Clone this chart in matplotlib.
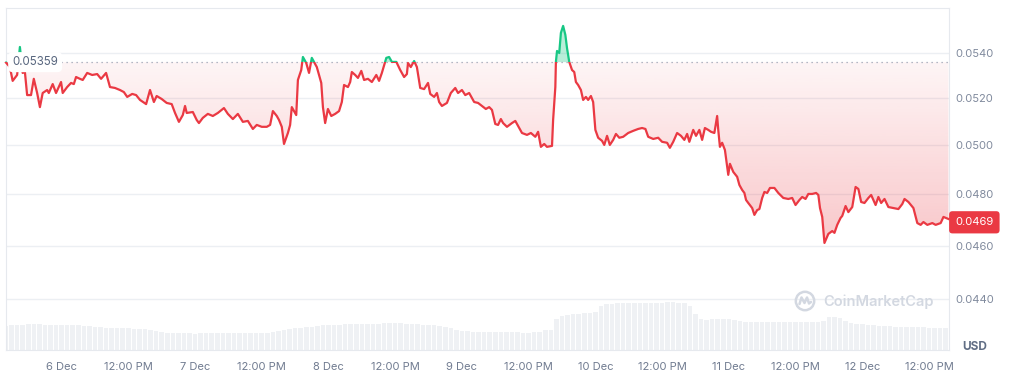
import matplotlib
matplotlib.use("Agg")
import matplotlib.pyplot as plt
import matplotlib.transforms as mtransforms
import numpy as np
from matplotlib.colors import to_rgb
from matplotlib.patches import Circle, Rectangle
from matplotlib.path import Path
from matplotlib.ticker import FixedLocator, NullFormatter, NullLocator

plt.rcParams["font.family"] = ["Inter", "DejaVu Sans"]

# Price, hours counted from 6 Dec 00:00
hours = [
    -10.0, -9.3, -8.8, -8.0, -7.5, -7.0, -6.6, -6.2, -5.5, -5.0, -4.4, -3.9, -3.4, -2.6, -2.3, -1.6, -1.0, -0.1,
    0.2, 1.0, 1.7, 2.2, 2.6, 3.3, 3.8, 4.6, 5.5, 6.4, 7.1, 8.0, 8.7, 9.6, 10.5, 11.2, 11.8, 12.7, 13.4, 14.1,
    15.2, 15.9, 16.6, 17.1, 18.0, 18.9, 19.8, 20.4, 21.1, 21.8, 22.2, 22.5, 23.6, 24.3, 24.7, 25.4, 26.3, 27.2,
    28.1, 29.2, 29.9, 30.8, 31.7, 32.6, 33.5, 34.4, 35.1, 36.0, 36.9, 37.5, 38.0, 38.7, 39.1, 39.6, 40.0, 40.7,
    41.1, 41.4, 42.2, 42.5, 43.1, 43.4, 44.0, 44.5, 45.0, 45.9, 46.7, 47.0, 47.4, 47.9, 48.5, 49.2, 49.9, 50.4,
    50.8, 51.5, 51.9, 52.2, 52.8, 53.3, 53.9, 54.4, 55.1, 55.8, 56.6, 57.1, 57.6, 58.4, 58.9, 59.4, 60.2, 60.9,
    61.6, 62.1, 62.3, 62.8, 63.4, 63.9, 64.5, 65.2, 65.9, 66.3, 67.0, 67.5, 67.9, 68.4, 69.3, 70.0, 70.8, 71.3,
    72.0, 72.6, 73.3, 74.2, 74.9, 75.6, 76.3, 76.9, 77.4, 78.0, 78.5, 79.0, 79.4, 80.1, 81.0, 81.6, 82.1, 82.8,
    83.7, 84.4, 85.2, 85.7, 86.2, 86.8, 87.3, 88.2, 88.4, 88.8, 88.9, 89.1, 89.5, 89.8, 90.2, 90.6, 90.9, 91.3,
    91.8, 92.2, 92.5, 92.9, 93.4, 93.8, 94.3, 94.7, 95.2, 95.6, 96.0, 96.5, 97.2, 97.6, 98.1, 98.6, 99.2, 99.7,
    100.3, 101.0, 101.9, 102.8, 103.7, 104.4, 105.0, 105.5, 106.4, 107.3, 108.0, 108.9, 109.4, 110.0, 110.7,
    111.4, 112.0, 112.5, 112.9, 113.6, 114.1, 114.7, 115.2, 115.7, 116.3, 116.8, 117.4, 117.9, 118.1, 118.4,
    118.8, 119.3, 119.9, 120.2, 120.8, 121.5, 121.9, 122.4, 122.8, 123.1, 123.5, 124.2, 124.6, 125.1, 125.5,
    126.0, 126.4, 126.9, 127.4, 128.2, 128.9, 129.8, 130.7, 131.4, 132.0, 132.7, 133.2, 133.8, 134.3, 135.0,
    135.7, 136.1, 136.4, 136.8, 137.2, 137.9, 138.6, 139.0, 139.5, 140.1, 140.4, 141.0, 141.5, 142.2, 142.8,
    143.3, 143.8, 144.4, 145.1, 145.6, 146.4, 146.9, 147.4, 148.0, 148.7, 149.6, 150.5, 151.2, 151.6, 152.3,
    153.2, 153.9, 154.5, 155.0, 155.7, 156.6, 157.2, 158.1, 158.6, 159.5,
]
price = [
    0.05357, 0.05337, 0.05276, 0.05302, 0.05427, 0.05311, 0.05315, 0.05214, 0.05214, 0.05285, 0.05223, 0.05162,
    0.05223, 0.05236, 0.05223, 0.05262, 0.05223, 0.05271, 0.05223, 0.05249, 0.05267, 0.05262, 0.05293, 0.05285,
    0.05280, 0.05311, 0.05302, 0.05306, 0.05285, 0.05311, 0.05249, 0.05245, 0.05236, 0.05227, 0.05206, 0.05219,
    0.05214, 0.05193, 0.05175, 0.05236, 0.05184, 0.05210, 0.05197, 0.05180, 0.05175, 0.05137, 0.05099, 0.05128,
    0.05167, 0.05137, 0.05141, 0.05107, 0.05094, 0.05116, 0.05133, 0.05124, 0.05137, 0.05158, 0.05133, 0.05111,
    0.05133, 0.05099, 0.05103, 0.05069, 0.05086, 0.05078, 0.05078, 0.05086, 0.05145, 0.05124, 0.05107, 0.05078,
    0.05006, 0.05052, 0.05086, 0.05162, 0.05128, 0.05280, 0.05324, 0.05382, 0.05355, 0.05311, 0.05378, 0.05337,
    0.05267, 0.05162, 0.05094, 0.05154, 0.05124, 0.05133, 0.05145, 0.05184, 0.05258, 0.05249, 0.05271, 0.05315,
    0.05302, 0.05289, 0.05320, 0.05280, 0.05285, 0.05271, 0.05302, 0.05276, 0.05311, 0.05378, 0.05382, 0.05360,
    0.05360, 0.05324, 0.05293, 0.05306, 0.05355, 0.05337, 0.05364, 0.05337, 0.05245, 0.05240, 0.05267, 0.05219,
    0.05206, 0.05223, 0.05184, 0.05167, 0.05180, 0.05223, 0.05245, 0.05223, 0.05236, 0.05214, 0.05223, 0.05184,
    0.05180, 0.05167, 0.05154, 0.05162, 0.05150, 0.05090, 0.05086, 0.05111, 0.05094, 0.05078, 0.05094, 0.05103,
    0.05082, 0.05052, 0.05044, 0.05052, 0.05036, 0.05057, 0.04994, 0.05006, 0.04994, 0.04998, 0.05107, 0.05249,
    0.05360, 0.05409, 0.05400, 0.05491, 0.05523, 0.05482, 0.05422, 0.05360, 0.05324, 0.05315, 0.05271, 0.05258,
    0.05236, 0.05193, 0.05206, 0.05193, 0.05210, 0.05184, 0.05065, 0.05032, 0.05019, 0.05002, 0.05040, 0.05002,
    0.05023, 0.05048, 0.05032, 0.05036, 0.05052, 0.05061, 0.05069, 0.05073, 0.05069, 0.05036, 0.05027, 0.05032,
    0.05015, 0.05011, 0.04990, 0.05015, 0.05052, 0.05040, 0.05023, 0.05048, 0.05015, 0.05065, 0.05040, 0.05065,
    0.05023, 0.05073, 0.05065, 0.05057, 0.05052, 0.05124, 0.05065, 0.04994, 0.05011, 0.04981, 0.04879, 0.04924,
    0.04891, 0.04871, 0.04838, 0.04818, 0.04806, 0.04778, 0.04766, 0.04746, 0.04719, 0.04738, 0.04742, 0.04786,
    0.04810, 0.04806, 0.04826, 0.04826, 0.04806, 0.04786, 0.04782, 0.04786, 0.04758, 0.04778, 0.04790, 0.04782,
    0.04802, 0.04802, 0.04806, 0.04798, 0.04746, 0.04711, 0.04610, 0.04645, 0.04656, 0.04649, 0.04680, 0.04707,
    0.04715, 0.04754, 0.04730, 0.04750, 0.04830, 0.04822, 0.04770, 0.04766, 0.04786, 0.04798, 0.04758, 0.04790,
    0.04766, 0.04782, 0.04750, 0.04746, 0.04742, 0.04762, 0.04782, 0.04770, 0.04746, 0.04687, 0.04680, 0.04691,
    0.04680, 0.04687, 0.04680, 0.04687, 0.04711, 0.04703,
]

# Hourly volume (relative)
vol_hours = list(range(-10, 160))
volume = [
    24, 25, 25, 25, 26, 26, 26, 25, 25, 25, 25, 25, 25, 25, 24, 24,
    23, 23, 22, 22, 22, 22, 22, 21, 21, 21, 20, 19, 18,
    17, 17, 17, 17, 17, 16, 17, 17, 17, 17, 17, 17, 17, 17, 17, 17, 17, 17, 17, 18,
    19, 20, 21, 22, 22, 23, 23, 24, 25,
    25, 25, 25, 26, 26, 26, 26, 26, 26, 26, 27, 27, 27, 27, 26, 26, 26, 25, 25, 25, 24, 23, 22,
    20, 19, 19, 18, 18, 18, 18, 18, 18, 18, 18, 18, 17, 17, 18, 18,
    20, 20,
    31, 34, 35, 36, 36, 37, 37, 38,
    44, 46, 46, 47, 47, 47, 47, 47, 47, 47, 47, 47, 48, 48, 47, 47,
    44, 36, 31, 30,
    31, 31, 31, 31, 30, 29,
    28, 28, 28, 28, 28, 28, 28, 28, 28, 28, 28, 28, 28, 28, 29,
    33, 33, 32,
    29, 27, 26, 26, 25, 25, 24, 24, 24,
    23, 23, 23, 23, 23, 23, 22, 22, 22, 22,
]

open_price = 0.05359
last_price = 0.0469
y_ticks = [0.0440, 0.0460, 0.0480, 0.0500, 0.0520, 0.0540]
x_ticks = [0, 12, 24, 36, 48, 60, 72, 84, 96, 108, 120, 132, 144, 156]
x_labels = ["6 Dec", "12:00 PM", "7 Dec", "12:00 PM", "8 Dec", "12:00 PM", "9 Dec",
            "12:00 PM", "10 Dec", "12:00 PM", "11 Dec", "12:00 PM", "12 Dec", "12:00 PM"]

red = "#ea3943"
green = "#16c784"
xlim = (-10.0, 159.6)
ylim = (0.04217, 0.05606)

fig = plt.figure(figsize=(10.11, 3.74), dpi=100)
rect = [6 / 1011, 24 / 374, 943 / 1011, 342 / 374]

# volume bars behind everything
axv = fig.add_axes(rect)
axv.bar(vol_hours, volume, width=0.82, color="#eff1f4", linewidth=0)
axv.set_xlim(*xlim)
axv.set_ylim(0, 342)
axv.axis("off")

ax = fig.add_axes(rect)
ax.patch.set_alpha(0)
ax.set_yscale("log")
ax.set_xlim(*xlim)
ax.set_ylim(*ylim)
ax.set_autoscale_on(False)

h = np.array(hours)
p = np.array(price)

# green area above the open price
ax.fill_between(h, p, open_price, where=p >= open_price, interpolate=True,
                color=green, alpha=0.3, linewidth=0, zorder=1)

# red gradient area below the open price
red_poly = ax.fill_between(h, p, open_price, where=p <= open_price, interpolate=True,
                           facecolor="none", edgecolor="none")
f = np.linspace(0, 1, 256)
fb = (np.log(open_price) - np.log(ylim[0])) / (np.log(ylim[1]) - np.log(ylim[0]))
grad = np.zeros((256, 1, 4))
grad[..., :3] = to_rgb(red)
grad[:, 0, 3] = np.clip(0.05 + (fb - f) / (fb - 0.32) * 0.23, 0, 0.4)
im = ax.imshow(grad, extent=(0, 1, 0, 1), transform=ax.transAxes, origin="lower",
               aspect="auto", interpolation="bilinear", zorder=1)
im.set_clip_path(Path.make_compound_path(*red_poly.get_paths()), ax.transData)

# price line, red under the open, green over it
line_r, = ax.plot(h, p, color=red, lw=1.6, zorder=3, solid_joinstyle="round")
line_r.set_clip_path(Rectangle((-20, 0.03), 200, open_price - 0.03, transform=ax.transData))
line_g, = ax.plot(h, p, color=green, lw=1.6, zorder=3, solid_joinstyle="round")
line_g.set_clip_path(Rectangle((-20, open_price), 200, 0.07 - open_price, transform=ax.transData))

ax.axhline(open_price, color="#9ba3b4", lw=0.9, ls=(0, (1, 3)), zorder=2)

blend = mtransforms.blended_transform_factory(ax.transAxes, ax.transData)
ax.text(0.0066, open_price, "0.05359", transform=blend, ha="left", va="center", fontsize=8.3,
        color="#58667e", zorder=5,
        bbox=dict(boxstyle="round,pad=0.35,rounding_size=0.4", fc="white", ec="none"))
ax.text(1.0066, last_price, "0.0469", transform=blend, ha="left", va="center", fontsize=8,
        color="white", zorder=5, clip_on=False,
        bbox=dict(boxstyle="round,pad=0.55,rounding_size=0.3", fc=red, ec="none"))

# axes styling
ax.yaxis.set_major_locator(FixedLocator(y_ticks))
ax.yaxis.set_minor_locator(NullLocator())
ax.yaxis.set_minor_formatter(NullFormatter())
ax.set_yticklabels([f"{t:.4f}" for t in y_ticks])
ax.yaxis.tick_right()
ax.set_xticks(x_ticks)
ax.set_xticklabels(x_labels)
ax.tick_params(axis="y", length=0, pad=4.5, labelsize=8, labelcolor="#808a9d")
ax.tick_params(axis="x", length=0, pad=9, labelsize=8, labelcolor="#707b90")
ax.grid(axis="y", color="#eceff3", lw=1)
ax.set_axisbelow(True)
for sp in ax.spines.values():
    sp.set_color("#e6e9ee")
    sp.set_linewidth(0.8)

fig.text(975 / 1011, 1 - 347 / 374, "USD", ha="center", va="center", fontsize=8.5,
         fontweight="bold", color="#616e85")

# watermark
fig.text(879 / 1011, 1 - 302 / 374, "CoinMarketCap", ha="center", va="center", fontsize=10.5,
         fontweight="semibold", color="#d3d8e1")
logo = fig.add_axes([794 / 1011, (374 - 312) / 374, 22 / 1011, 22 / 374])
logo.set_xlim(-1.1, 1.1)
logo.set_ylim(-1.1, 1.1)
logo.set_aspect("equal")
logo.axis("off")
logo.add_patch(Circle((0, 0), 0.92, fill=False, ec="#d3d8e1", lw=1.8))
logo.plot([-0.55, -0.35, -0.05, 0.2, 0.4, 0.6], [-0.3, 0.35, -0.2, 0.35, -0.25, -0.1],
          color="#d3d8e1", lw=1.8, solid_joinstyle="round", solid_capstyle="round")

fig.savefig("out.png", dpi=100)
plt.close("all")
